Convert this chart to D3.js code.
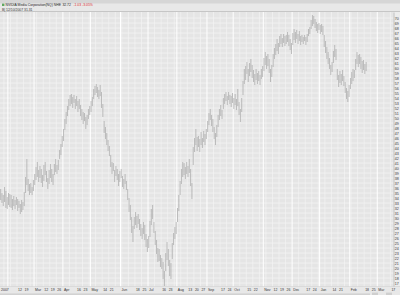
<!DOCTYPE html>
<html>
<head>
<meta charset="utf-8">
<script src="https://cdn.jsdelivr.net/npm/d3@7"></script>
<style>
  body { margin: 0; background: #fff; }
  svg { display: block; font-family: "Liberation Sans", Arial, sans-serif; }
</style>
</head>
<body>
<svg id="chart" width="400" height="295"></svg>
<script>
// header texts
const titleName = "NVIDIA Media Corporation(NQ) NHE";
const titleLast = "32.72";
const titleChange = "-1.03  -3.05%";
const cursorLine = "B| 12/10/2007  31.31";

const monthNames = ["Jan", "Feb", "Mar", "Apr", "May", "Jun", "Jul", "Aug", "Sep", "Oct", "Nov", "Dec"];
const yearLabel = "2007";
const firstDay = new Date(2007, 0, 24);
const priceTicks = d3.range(17, 71);

// daily lows / highs, one per trading day from firstDay
const lows = [
  33.6, 33.0, 32.4, 33.2, 32.0, 31.8, 32.6, 32.2,
  32.0, 31.6, 32.4, 31.8, 32.6, 31.4, 32.0, 30.8, 31.2, 31.6,
  32.4, 35.0, 36.6, 35.4, 34.6, 35.0, 34.6, 35.4,
  36.6, 37.6, 38.2, 37.2, 38.0,
  37.0, 36.2, 37.4, 38.6, 37.2, 35.8, 36.8, 38.0, 37.2, 36.6,
  38.6, 39.2, 38.8, 39.6, 41.8, 42.6, 44.2, 45.4,
  47.6, 48.8, 50.4, 51.6, 52.4, 52.8, 52.0, 53.0, 51.8, 52.4,
  51.2, 51.8, 50.4, 49.6, 48.8, 49.4, 47.8, 48.6, 49.8, 50.6,
  51.2, 52.4, 53.8, 54.6, 55.0, 54.2, 53.8, 54.4, 52.0, 50.2,
  47.0, 45.8, 44.6, 43.4, 42.4, 40.2, 38.8, 39.4, 37.2, 38.4,
  37.6, 36.4, 37.2, 38.0, 36.2, 35.8, 36.8, 35.6, 33.6, 31.2,
  29.6, 27.0, 25.2, 27.8, 28.6, 28.0, 28.8, 27.6, 26.4, 25.8, 26.8,
  25.6, 24.2, 23.2, 24.0, 26.2, 28.6, 29.8, 27.0, 24.6, 22.8, 21.2,
  21.4, 20.2, 19.8, 17.8, 16.0, 19.4, 21.6, 20.4, 18.4, 17.8,
  21.8, 24.6, 25.8, 26.8, 29.2, 31.4, 34.6, 36.8, 38.2,
  38.6, 37.8, 38.8, 38.2, 39.0, 36.4, 33.8,
  40.6, 43.2, 44.6, 43.4, 44.2, 43.2, 44.6, 44.0, 45.2, 44.6, 45.8,
  47.2, 48.6, 49.6, 48.4, 47.2, 45.8, 44.6, 46.2, 48.2, 49.6, 50.4, 49.8,
  51.8, 52.8, 53.4, 52.6, 53.6, 52.8, 52.2, 53.0, 51.8, 52.6, 51.6,
  52.4, 50.6, 49.2, 51.2, 54.6, 56.8,
  57.6, 58.8, 57.2, 58.4, 59.2, 58.0,
  57.2, 56.6, 57.6, 56.8, 57.4, 56.6, 57.8, 58.2,
  59.4, 60.6, 59.8, 60.4, 59.0, 57.2, 58.2,
  60.2, 61.8, 62.6, 63.4, 62.8, 64.2, 64.8, 64.2, 65.0, 64.4, 64.8,
  65.2, 64.4, 63.6, 62.8, 64.6, 65.6, 65.0, 65.8, 64.8, 65.4,
  64.6, 65.2, 64.8, 65.4, 64.6, 65.2, 66.4, 66.8,
  67.8, 68.4, 68.8, 68.0, 67.4, 67.0, 67.6, 66.8, 67.2, 66.6,
  64.2, 63.0, 61.8, 60.8, 59.8, 58.6, 59.2, 61.0, 62.2, 61.6,
  57.6, 56.2, 57.0, 56.6, 57.4, 56.4, 55.0, 53.8, 53.2, 54.2,
  55.8, 56.8, 57.4, 58.0, 59.6, 60.8, 60.2, 60.8,
  59.8, 59.0, 59.6, 58.8, 59.4
];
const highs = [
  35.8, 35.0, 34.6, 36.2, 35.4, 34.2, 35.0, 34.8,
  34.6, 33.8, 34.4, 33.6, 34.2, 33.8, 33.4, 32.8, 33.6, 33.2,
  35.2, 38.2, 41.8, 37.8, 36.8, 37.0, 36.2, 37.6,
  38.8, 40.2, 41.2, 39.6, 40.4,
  39.8, 38.6, 40.6, 41.2, 39.4, 38.0, 39.6, 40.8, 39.8, 38.8,
  40.8, 41.8, 40.6, 41.6, 43.6, 44.8, 46.4, 47.8,
  49.8, 51.2, 52.4, 53.8, 54.6, 54.8, 54.2, 54.6, 53.8, 54.4,
  53.4, 53.8, 52.6, 51.8, 51.2, 51.0, 50.2, 50.6, 51.8, 52.4,
  53.4, 54.2, 55.8, 56.4, 56.8, 56.2, 55.6, 56.6, 55.2, 52.8,
  49.4, 48.2, 47.0, 45.6, 44.4, 42.6, 41.2, 41.0, 39.6, 40.4,
  39.8, 38.8, 39.4, 39.8, 38.4, 37.8, 38.8, 37.4, 35.8, 34.0,
  32.6, 30.2, 28.4, 30.2, 31.2, 30.4, 30.8, 29.8, 28.8, 28.0, 29.2,
  28.6, 26.8, 25.8, 26.4, 29.4, 31.8, 32.6, 29.2, 27.4, 25.6, 24.0,
  23.8, 22.6, 22.0, 21.2, 19.4, 23.0, 25.2, 23.8, 21.6, 21.0,
  25.0, 27.0, 28.2, 29.2, 32.0, 34.6, 37.4, 39.8, 41.2,
  41.0, 40.2, 41.2, 40.4, 41.8, 39.8, 37.0,
  44.2, 46.0, 47.8, 46.2, 46.4, 45.8, 47.2, 46.0, 47.4, 46.8, 47.8,
  49.4, 51.0, 51.8, 50.6, 49.8, 48.2, 47.0, 48.6, 50.6, 51.8, 52.6, 51.6,
  54.0, 54.8, 55.2, 54.4, 55.2, 54.6, 54.4, 55.0, 54.0, 54.8, 53.8,
  55.8, 53.2, 51.8, 54.0, 57.4, 59.8,
  60.4, 61.2, 59.8, 61.0, 61.8, 60.6,
  59.6, 58.8, 59.8, 59.0, 59.4, 58.6, 59.8, 60.4,
  62.0, 63.2, 62.4, 62.8, 61.8, 59.8, 60.6,
  62.8, 64.0, 64.8, 65.8, 65.0, 66.4, 66.8, 66.0, 66.8, 66.4, 66.6,
  67.2, 66.6, 65.8, 65.0, 67.0, 67.8, 67.2, 67.6, 66.8, 67.4,
  66.4, 66.6, 66.2, 66.6, 66.2, 66.8, 67.8, 68.2,
  69.6, 70.6, 70.4, 69.8, 69.2, 68.8, 69.0, 68.6, 68.8, 68.4,
  66.6, 65.4, 64.2, 63.2, 62.0, 60.6, 61.2, 63.4, 64.6, 63.8,
  59.8, 58.6, 59.4, 58.8, 59.6, 58.4, 57.2, 56.0, 55.4, 56.6,
  58.0, 59.2, 59.8, 59.6, 61.8, 63.2, 62.6, 62.8,
  62.2, 61.4, 61.6, 60.8, 61.2
];

const plot = { left: 0, right: 393.5, top: 12, bottom: 286 };
const svg = d3.select("#chart");

// trading calendar (weekdays) for the x axis
const days = [];
const cur = new Date(firstDay);
while (days.length < 300) {
  if (cur.getDay() % 6 !== 0) days.push(new Date(cur));
  cur.setDate(cur.getDate() + 1);
}

const x = d3.scaleLinear().domain([0, days.length]).range([0, 393]);
const y = d3.scaleLinear().domain([16.4, 71.2]).range([plot.bottom, plot.top]);

// backgrounds
svg.append("rect").attr("width", 400).attr("height", 295).attr("fill", "#e8e8e8");
svg.append("rect").attr("width", 400).attr("height", 3.5).attr("fill", "#d6d6d6");
svg.append("rect")
  .attr("x", plot.left).attr("y", plot.top)
  .attr("width", plot.right - plot.left).attr("height", plot.bottom - plot.top)
  .attr("fill", "#e5e5e5");
svg.append("rect")
  .attr("x", plot.right).attr("y", plot.top)
  .attr("width", 400 - plot.right).attr("height", plot.bottom - plot.top)
  .attr("fill", "#ededed");

// ticks on the date axis: month starts and mondays
const ticks = [];
days.forEach((dt, i) => {
  if (i > 0 && days[i - 1].getMonth() !== dt.getMonth()) {
    ticks.push({ i, month: true, label: monthNames[dt.getMonth()] });
  } else if (dt.getDay() === 1) {
    ticks.push({ i, month: false, label: String(dt.getDate()) });
  }
});

const grid = svg.append("g").attr("class", "grid");
grid.selectAll("line.h")
  .data(priceTicks)
  .join("line")
  .attr("class", "h")
  .attr("x1", plot.left).attr("x2", plot.right)
  .attr("y1", d => y(d)).attr("y2", d => y(d))
  .attr("stroke", "#f5f5f5").attr("stroke-width", 0.7);
grid.selectAll("line.v")
  .data(ticks)
  .join("line")
  .attr("class", "v")
  .attr("x1", d => x(d.i)).attr("x2", d => x(d.i))
  .attr("y1", plot.top).attr("y2", plot.bottom + 1)
  .attr("stroke", d => d.month ? "#ffffff" : "#f4f4f4")
  .attr("stroke-width", d => d.month ? 1 : 0.7);

// price bars
svg.append("clipPath").attr("id", "clip")
  .append("rect")
  .attr("x", plot.left).attr("y", plot.top)
  .attr("width", plot.right - plot.left).attr("height", plot.bottom - plot.top);

svg.append("g")
  .attr("clip-path", "url(#clip)")
  .selectAll("line.bar")
  .data(lows)
  .join("line")
  .attr("class", "bar")
  .attr("x1", (d, i) => x(i + 0.5)).attr("x2", (d, i) => x(i + 0.5))
  .attr("y1", (d, i) => y(highs[i]))
  .attr("y2", d => y(d))
  .attr("stroke", "#a6a6a6")
  .attr("stroke-width", 0.7);

// borders
svg.append("line")
  .attr("x1", 0).attr("x2", 400).attr("y1", plot.top - 0.5).attr("y2", plot.top - 0.5)
  .attr("stroke", "#c6c6c6").attr("stroke-width", 1);
svg.append("line")
  .attr("x1", 0).attr("x2", 400).attr("y1", plot.bottom + 0.5).attr("y2", plot.bottom + 0.5)
  .attr("stroke", "#d0d0d0").attr("stroke-width", 0.6);

// right price axis
const yAxis = svg.append("g")
  .attr("transform", "translate(" + plot.right + ",0)")
  .call(d3.axisRight(y).tickValues(priceTicks).tickSize(0).tickPadding(1.2).tickFormat(d3.format("d")));
yAxis.select(".domain").attr("stroke", "#b6b6b6").attr("stroke-width", 0.8);
yAxis.selectAll("text")
  .attr("font-size", "3.6px")
  .attr("fill", "#333")
  .attr("font-family", "Liberation Sans, Arial, sans-serif");

// date labels, dropping the ones that would collide
const placed = [{ x: 1, w: yearLabel.length * 2 + 1, label: yearLabel }];
const candidates = ticks.filter(t => t.month).concat(ticks.filter(t => !t.month));
candidates.forEach(t => {
  const lx = x(t.i) + 1;
  const w = t.label.length * 1.9 + 1;
  const hit = placed.some(p => lx < p.x + p.w + 1.5 && p.x < lx + w + 1.5);
  if (!hit && lx + w < 398) placed.push({ x: lx, w, label: t.label });
});

svg.append("g").selectAll("text")
  .data(placed)
  .join("text")
  .attr("x", d => d.x)
  .attr("y", 291.2)
  .attr("font-size", "3.5px")
  .attr("fill", "#333")
  .text(d => d.label);

// scroll bar at the very bottom
svg.append("rect").attr("x", 0).attr("y", 293.4).attr("width", 370).attr("height", 1.6).attr("fill", "#d2d2d2");
svg.append("rect").attr("x", 372).attr("y", 292.6).attr("width", 6).attr("height", 2.4).attr("fill", "#cfcfcf");
svg.append("rect").attr("x", 386).attr("y", 292.6).attr("width", 6).attr("height", 2.4).attr("fill", "#cfcfcf");

// header
svg.append("rect").attr("x", 2).attr("y", 3.6).attr("width", 2.4).attr("height", 2.4).attr("fill", "#5fa85f");
const head = svg.append("text").attr("x", 5.5).attr("y", 6.4).attr("font-size", "3.4px").attr("fill", "#222");
head.append("tspan").text(titleName);
head.append("tspan").attr("dx", 1.5).text(titleLast);
head.append("tspan").attr("dx", 2.5).attr("fill", "#e03030").text(titleChange);

svg.append("text")
  .attr("x", 2).attr("y", 10.6)
  .attr("font-size", "3.4px").attr("fill", "#333")
  .text(cursorLine);
</script>
</body>
</html>
